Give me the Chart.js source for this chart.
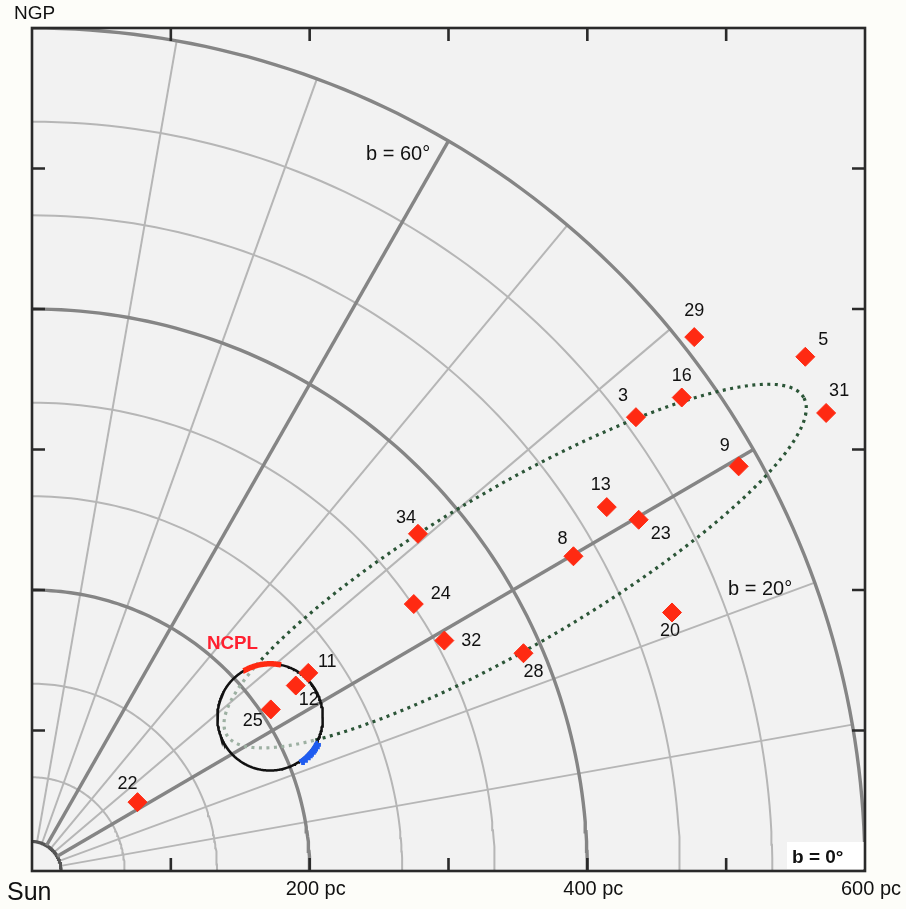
<!DOCTYPE html>
<html>
<head>
<meta charset="utf-8">
<script src="https://cdn.jsdelivr.net/npm/chart.js@4.4.0/dist/chart.umd.min.js"></script>
<style>
  html, body { margin: 0; padding: 0; background: #fdfdf9; }
  canvas { display: block; }
</style>
</head>
<body>
<canvas id="chart" width="906" height="909"></canvas>
<script>
// Star positions in the (l-plane, NGP) quarter, distances in pc
const starIds = ['29', '5', '16', '3', '31', '9', '13', '23', '8', '34', '24', '32', '28', '20', '11', '12', '25', '22'];
const starX = [477, 557, 468, 435, 572, 509, 414, 437, 390, 278, 275, 297, 354, 461, 199, 190, 172, 76];
const starY = [380, 366, 337, 323, 326, 288, 259, 250, 224, 240, 190, 164, 155, 184, 141, 132, 115, 49];

// where each number sits next to its diamond (px)
const labelDx = [0, 18, 0, -13, 13, -14, -6, 22, -11, -12, 27, 27, 10, -2, 19, 13, -18, -10];
const labelDy = [-26, -17, -21, -21, -22, -20, -22, 14, -17, -16, -10, 0, 19, 19, -11, 14, 12, -18];

// polar grid (pc and degrees of latitude)
const arcRadiiMajor = [200, 400, 600];
const arcRadiiMinor = [66.7, 133.3, 266.7, 333.3, 466.7, 533.3];
const sunRadius = 21;
const latMajor = [30, 60];
const latMinor = [10, 20, 40, 50, 70, 80];
const axisTicks = [100, 200, 300, 400, 500];
const distValues = [200, 400, 600];
const distLabels = ['200 pc', '400 pc', '600 pc'];

// NCPL shell and the dotted ellipse
const shellCenter = [171.5, 109.5];
const shellRadius = 38;
const ncplArc = [78, 120];
const blueArc = [-56, -28];
const ellCenter = [348, 217];
const ellAxes = [240, 56];
const ellAngle = 30;

const RAD = Math.PI / 180;

function arcPoints(cx, cy, r, a0, a1) {
    const pts = [];
    for (let a = a0; a <= a1 + 1e-9; a += 1) {
        pts.push({ x: cx + r * Math.cos(a * RAD), y: cy + r * Math.sin(a * RAD) });
    }
    return pts;
}

function ellipsePoints() {
    const pts = [];
    const c = Math.cos(ellAngle * RAD), s = Math.sin(ellAngle * RAD);
    for (let a = 0; a <= 360; a += 1) {
        const u = ellAxes[0] * Math.cos(a * RAD);
        const v = ellAxes[1] * Math.sin(a * RAD);
        pts.push({ x: ellCenter[0] + u * c - v * s, y: ellCenter[1] + u * s + v * c });
    }
    return pts;
}

function insideShell(p) {
    return Math.hypot(p.x - shellCenter[0], p.y - shellCenter[1]) < shellRadius;
}

function lineSet(data, color, width, extra) {
    return Object.assign({
        data: data,
        showLine: true,
        borderColor: color,
        borderWidth: width,
        pointRadius: 0,
        pointHoverRadius: 0,
        fill: false,
        tension: 0
    }, extra || {});
}

const datasets = [];

// stars on top
datasets.push({
    data: starX.map((x, i) => ({ x: x, y: starY[i] })),
    pointStyle: 'rectRot',
    pointRadius: 9.5,
    pointHoverRadius: 9.5,
    backgroundColor: '#ff2a12',
    borderColor: '#ff2a12',
    borderWidth: 1,
    showLine: false
});

datasets.push(lineSet(arcPoints(shellCenter[0], shellCenter[1], shellRadius, ncplArc[0], ncplArc[1]), '#ff2a12', 5.5));
datasets.push(lineSet(arcPoints(shellCenter[0], shellCenter[1], shellRadius + 1, blueArc[0], blueArc[1]), '#1f5cf0', 6));
datasets.push(lineSet(arcPoints(shellCenter[0], shellCenter[1], shellRadius, 0, 360), '#111111', 2.5));

const ell = ellipsePoints();
datasets.push(lineSet(ell, '#2b5537', 3.2, {
    borderDash: [3, 4.5],
    segment: {
        borderColor: ctx => (insideShell(ell[ctx.p0DataIndex]) && insideShell(ell[ctx.p1DataIndex])) ? '#9db0a2' : '#2b5537'
    }
}));

// grid
latMajor.forEach(b => {
    datasets.push(lineSet([
        { x: sunRadius * Math.cos(b * RAD), y: sunRadius * Math.sin(b * RAD) },
        { x: 600 * Math.cos(b * RAD), y: 600 * Math.sin(b * RAD) }
    ], '#858585', 3.4));
});
arcRadiiMajor.forEach(r => datasets.push(lineSet(arcPoints(0, 0, r, 0, 90), '#858585', 3.4)));
datasets.push(lineSet(arcPoints(0, 0, sunRadius, 0, 90), '#555555', 3));
latMinor.forEach(b => {
    datasets.push(lineSet([
        { x: sunRadius * Math.cos(b * RAD), y: sunRadius * Math.sin(b * RAD) },
        { x: 600 * Math.cos(b * RAD), y: 600 * Math.sin(b * RAD) }
    ], '#b6b6b6', 2));
});
arcRadiiMinor.forEach(r => datasets.push(lineSet(arcPoints(0, 0, r, 0, 90), '#b6b6b6', 2)));

const decorPlugin = {
    id: 'decor',
    beforeDraw(chart) {
        const ctx = chart.ctx, a = chart.chartArea;
        ctx.save();
        ctx.fillStyle = '#fdfdf9';
        ctx.fillRect(0, 0, chart.width, chart.height);
        ctx.fillStyle = '#f2f2f2';
        ctx.fillRect(a.left, a.top, a.right - a.left, a.bottom - a.top);
        ctx.restore();
    },
    afterDatasetsDraw(chart) {
        const ctx = chart.ctx, a = chart.chartArea;
        const xs = chart.scales.x, ys = chart.scales.y;
        ctx.save();

        // star numbers
        const meta = chart.getDatasetMeta(0);
        ctx.fillStyle = '#111';
        ctx.font = '18px "Liberation Sans", Arial, sans-serif';
        ctx.textAlign = 'center';
        ctx.textBaseline = 'middle';
        meta.data.forEach((pt, i) => {
            ctx.fillText(starIds[i], pt.x + labelDx[i], pt.y + labelDy[i]);
        });

        // white box behind b = 0°
        ctx.fillStyle = '#ffffff';
        ctx.fillRect(a.right - 78, a.bottom - 29, 78, 27);

        // frame and ticks
        ctx.strokeStyle = '#2a2a2a';
        ctx.lineWidth = 2.6;
        ctx.strokeRect(a.left, a.top, a.right - a.left, a.bottom - a.top);
        ctx.beginPath();
        axisTicks.forEach(v => {
            const px = xs.getPixelForValue(v), py = ys.getPixelForValue(v);
            ctx.moveTo(px, a.bottom); ctx.lineTo(px, a.bottom - 13);
            ctx.moveTo(px, a.top); ctx.lineTo(px, a.top + 13);
            ctx.moveTo(a.left, py); ctx.lineTo(a.left + 13, py);
            ctx.moveTo(a.right, py); ctx.lineTo(a.right - 13, py);
        });
        ctx.stroke();

        // texts
        ctx.textBaseline = 'alphabetic';
        ctx.fillStyle = '#111';
        ctx.textAlign = 'left';
        ctx.font = '19px "Liberation Sans", Arial, sans-serif';
        ctx.fillText('NGP', 14, 19);
        ctx.font = '20px "Liberation Sans", Arial, sans-serif';
        ctx.fillText('b = 60°', 366, 160, 71);
        ctx.fillText('b = 20°', 728, 595, 72);
        ctx.font = '25px "Liberation Sans", Arial, sans-serif';
        ctx.fillText('Sun', 7, 900, 50);
        ctx.font = '20px "Liberation Sans", Arial, sans-serif';
        distValues.forEach((v, i) => {
            const px = xs.getPixelForValue(v);
            ctx.textAlign = 'center';
            ctx.fillText(distLabels[i], px + 6, 895, 64);
        });
        ctx.textAlign = 'left';
        ctx.font = 'bold 19px "Liberation Sans", Arial, sans-serif';
        ctx.fillText('b = 0°', 792, 863, 58);
        ctx.fillStyle = '#ff2030';
        ctx.font = 'bold 19px "Liberation Sans", Arial, sans-serif';
        ctx.fillText('NCPL', 207, 649, 51);
        ctx.restore();
    }
};

new Chart(document.getElementById('chart').getContext('2d'), {
    type: 'scatter',
    data: { datasets: datasets },
    options: {
        responsive: false,
        animation: false,
        layout: { padding: { left: 32, right: 41, top: 28, bottom: 38 } },
        scales: {
            x: { type: 'linear', min: 0, max: 600, display: false },
            y: { type: 'linear', min: 0, max: 600, display: false }
        },
        plugins: {
            legend: { display: false },
            tooltip: { enabled: false }
        },
        events: []
    },
    plugins: [decorPlugin]
});
</script>
</body>
</html>
